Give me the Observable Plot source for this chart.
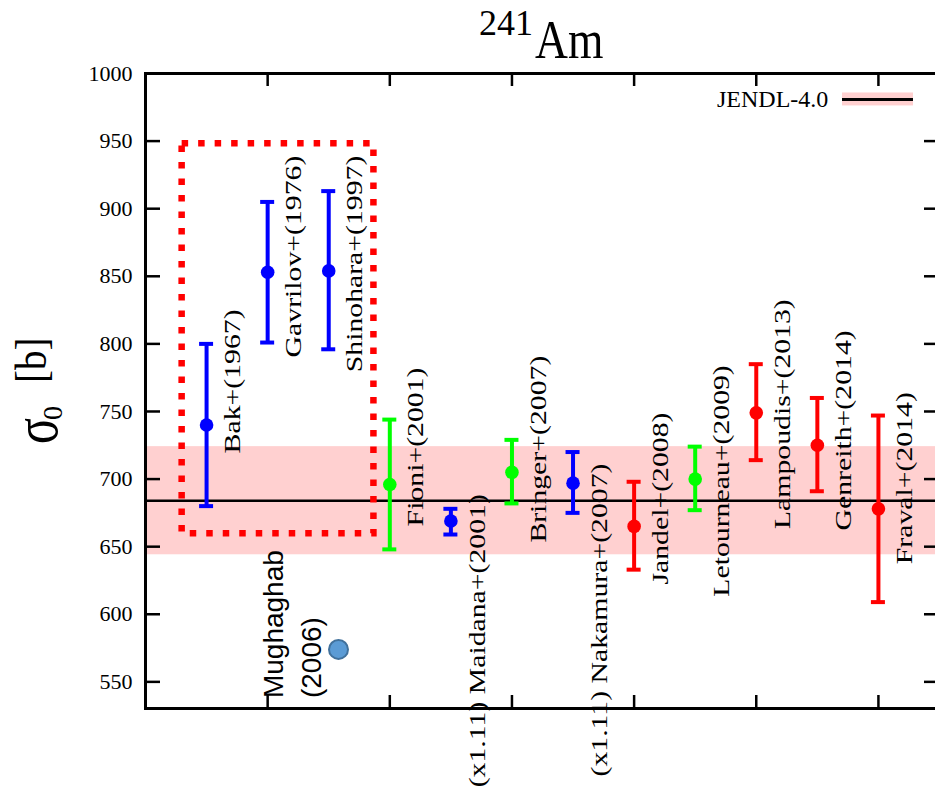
<!DOCTYPE html>
<html><head><meta charset="utf-8">
<script src="https://cdn.jsdelivr.net/npm/d3@7"></script>
<script src="https://cdn.jsdelivr.net/npm/@observablehq/plot@0.6"></script>
<style>
html,body{margin:0;padding:0;overflow:hidden;background:#fff;width:935px;height:795px;}
</style></head><body><div id="chart"></div>
<script>
// ---- data ----
const studies = ["Bak+(1967)","Gavrilov+(1976)","Shinohara+(1997)","Fioni+(2001)","(x1.11) Maidana+(2001)","Bringer+(2007)","(x1.11) Nakamura+(2007)","Jandel+(2008)","Letourneau+(2009)","Lampoudis+(2013)","Genreith+(2014)","Fraval+(2014)"];
const xPos = [0.5,1,1.5,2,2.5,3,3.5,4,4.5,5,5.5,6];
const sigma0 = [740,853,854,696,669,705,697,665,700,749,725,678];
const errLow = [680,801,796,648,659,682,675,633,677,714,691,609];
const errHigh = [800,905,913,744,678,729,720,698,724,785,760,747];
const group = ["set1","set1","set1","set2","set1","set2","set1","set3","set2","set3","set3","set3"];
const labelBase = [719,790,779,665,472,653,480,622,613,663,662,637];

const evalName = ["Mughaghab\n(2006)"];
const evalX = [1.58];
const evalValue = [574];
const evalLabelX = [1];
const evalLabelBase = [538];

const jendlName = "JENDL-4.0";
const jendlValue = 684;
const jendlLow = 644;
const jendlHigh = 724;

const boxX = [0.3, 1.87];
const boxY = [659.5, 948];

const xDomain = [0, 6.5];
const yDomain = [530.3, 1000];
const xTicks = [1,2,3,4,5,6];
const yTicks = [550,600,650,700,750,800,850,900,950,1000];

const groupDomain = ["set1","set2","set3"];
const groupColors = ["#0000ff","#00ff00","#ff0000"];

// legend placement (data units inside the frame)
const legendTextX = 5.59, legendSampleX = [5.706, 6.287], legendY = 980.8, legendHalf = 4.8;

// ---- build ----
const rows = studies.map((name, i) => ({name, x: xPos[i], value: sigma0[i], lo: errLow[i], hi: errHigh[i], group: group[i], lb: labelBase[i]}));
const evalRows = evalName.map((name, i) => ({name, x: evalX[i], value: evalValue[i], lx: evalLabelX[i], lb: evalLabelBase[i]}));

const pxX = (xDomain[1]-xDomain[0]) / (939-145);
const pxY = (yDomain[1]-yDomain[0]) / (708-73);
const cap = 7 * pxX;
const tickH = 15 * pxX;
const tickV = 13 * pxY;

const svg = Plot.plot({
  width: 945, height: 795,
  marginLeft: 145, marginRight: 6, marginTop: 73, marginBottom: 87,
  x: {domain: xDomain, axis: null},
  y: {domain: yDomain, axis: null},
  color: {domain: groupDomain, range: groupColors},
  style: {fontFamily: "'Liberation Serif', serif", fontSize: "22px", background: "white", maxWidth: "none", color: "black"},
  marks: [
    Plot.rect([{lo: jendlLow, hi: jendlHigh}], {x1: xDomain[0], x2: xDomain[1], y1: "lo", y2: "hi", fill: "#ffd0d0"}),
    Plot.ruleY([jendlValue], {stroke: "black", strokeWidth: 2.5}),
    Plot.rect([{x1: boxX[0], x2: boxX[1], y1: boxY[0], y2: boxY[1]}], {x1: "x1", x2: "x2", y1: "y1", y2: "y2", fill: "none", stroke: "#ff0000", strokeWidth: 6.5, strokeDasharray: "6.5,10"}),
    Plot.text(rows, {x: "x", y: "lb", text: "name", rotate: -90, textAnchor: "start", lineAnchor: "middle", dx: 26, fontSize: 24, fill: "black"}),
    Plot.text(evalRows, {x: "lx", y: "lb", text: "name", rotate: -90, textAnchor: "start", lineAnchor: "middle", dx: 22, fontSize: 28, lineHeight: 1.36, fontFamily: "'Liberation Sans', sans-serif", fill: "black"}),
    Plot.ruleX(rows, {x: "x", y1: "lo", y2: "hi", stroke: "group", strokeWidth: 4}),
    Plot.ruleY(rows, {y: "lo", x1: d => d.x - cap, x2: d => d.x + cap, stroke: "group", strokeWidth: 4}),
    Plot.ruleY(rows, {y: "hi", x1: d => d.x - cap, x2: d => d.x + cap, stroke: "group", strokeWidth: 4}),
    Plot.dot(rows, {x: "x", y: "value", r: 6.8, fill: "group"}),
    Plot.dot(evalRows, {x: "x", y: "value", r: 9.5, fill: "#5b9bd5", stroke: "#41719c", strokeWidth: 2}),
    // legend
    Plot.rect([{y: legendY}], {x1: legendSampleX[0], x2: legendSampleX[1], y1: d => d.y - legendHalf, y2: d => d.y + legendHalf, fill: "#ffd0d0"}),
    Plot.ruleY([legendY], {x1: legendSampleX[0], x2: legendSampleX[1], stroke: "black", strokeWidth: 3}),
    Plot.text([jendlName], {x: legendTextX, y: legendY, text: d => d, textAnchor: "end", lineAnchor: "middle", fontSize: 24, fill: "black"}),
    // frame and ticks
    Plot.frame({stroke: "black", strokeWidth: 3}),
    Plot.ruleY(yTicks, {y: d => d, x1: xDomain[0], x2: xDomain[0] + tickH, stroke: "black", strokeWidth: 2.5}),
    Plot.ruleY(yTicks, {y: d => d, x1: xDomain[1] - tickH, x2: xDomain[1], stroke: "black", strokeWidth: 2.5}),
    Plot.ruleX(xTicks, {x: d => d, y1: yDomain[0], y2: yDomain[0] + tickV, stroke: "black", strokeWidth: 2.5}),
    Plot.ruleX(xTicks, {x: d => d, y1: yDomain[1] - tickV, y2: yDomain[1], stroke: "black", strokeWidth: 2.5}),
    Plot.axisY(yTicks, {tickSize: 0, tickPadding: 13, label: null, fontSize: 22, tickFormat: d => String(d)})
  ]
});

document.getElementById("chart").appendChild(svg);

// stretch the study labels along their reading direction
d3.select(svg).selectAll("text")
  .filter(function() { return studies.includes(this.textContent); })
  .attr("transform", function() { return (this.getAttribute("transform") || "") + " scale(1.24,1)"; });

const s = d3.select(svg);
const serif = "'Liberation Serif', serif";
// title: superscript mass number + element
s.append("text").attr("x", 479).attr("y", 35).attr("font-size", 36).attr("fill", "black")
  .attr("text-anchor", "start").attr("font-family", serif).text("241");
s.append("text").attr("transform", "translate(535,58) scale(0.95,1.15)").attr("font-size", 48).attr("fill", "black")
  .attr("text-anchor", "start").attr("font-family", serif).text("Am");
// y-axis label: sigma_0 [b]
s.append("text").attr("transform", "translate(57,444) rotate(-90) scale(1,1.3)").attr("font-size", 48)
  .attr("text-anchor", "start").attr("font-family", serif).attr("fill", "black").text("σ");
s.append("text").attr("transform", "translate(62,420) rotate(-90)").attr("font-size", 28)
  .attr("text-anchor", "start").attr("font-family", serif).attr("fill", "black").text("0");
s.append("text").attr("transform", "translate(46,383) rotate(-90) scale(1,1.15)").attr("font-size", 39)
  .attr("text-anchor", "start").attr("font-family", serif).attr("fill", "black").text("[b]");
</script></body></html>
